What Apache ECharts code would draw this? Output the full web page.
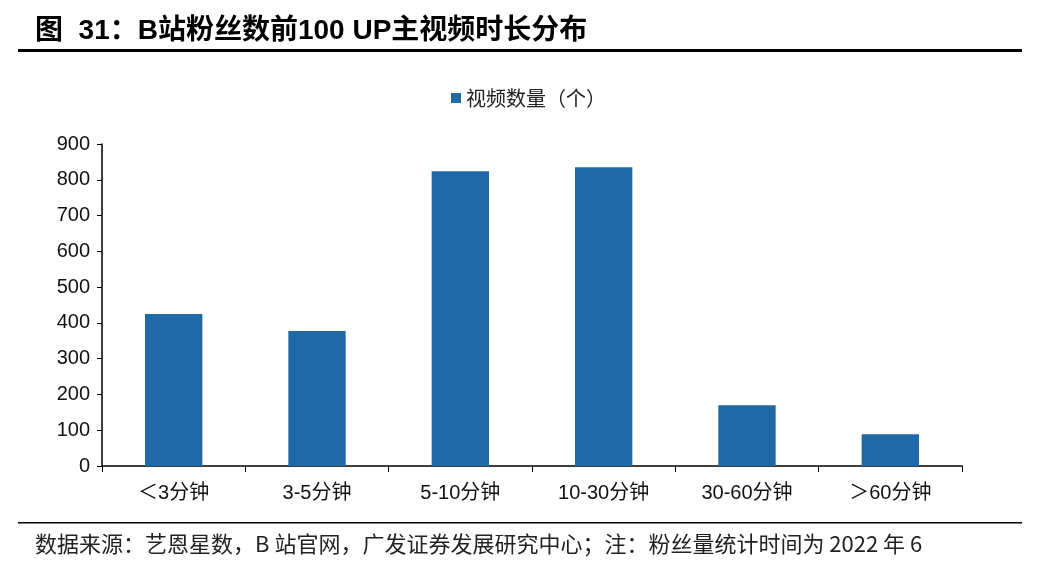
<!DOCTYPE html>
<html><head><meta charset="utf-8">
<script src="https://cdn.jsdelivr.net/npm/echarts@6/dist/echarts.min.js"></script>
<style>html,body{margin:0;padding:0;background:#fff}#c{width:1057px;height:576px}</style>
</head><body><div id="c"></div>
<script>
const categories = ['＜3分钟', '3-5分钟', '5-10分钟', '10-30分钟', '30-60分钟', '＞60分钟'];
const videoCounts = [425, 377, 824, 835, 170, 89];
const seriesName = '视频数量（个）';
const yTicks = { min: 0, max: 900, interval: 100 };
const titleText = '图  31：B站粉丝数前100 UP主视频时长分布';
const footerText = '数据来源：艺恩星数，B 站官网，广发证券发展研究中心；注：粉丝量统计时间为 2022 年 6';

const chart = echarts.init(document.getElementById('c'));
const latin = 'Liberation Sans, Arial, "Noto Sans CJK SC", sans-serif';
chart.setOption({
  animation: false,
  backgroundColor: '#fff',
  legend: {
    top: 83, left: 'center',
    itemWidth: 10, itemHeight: 10, itemGap: 7,
    icon: 'rect',
    textStyle: { fontSize: 20, color: '#222', fontFamily: '"Noto Sans CJK SC", sans-serif' },
    data: [seriesName]
  },
  grid: { left: 102, right: 95, top: 144, bottom: 110, containLabel: false },
  xAxis: {
    type: 'category', data: categories,
    axisLine: { lineStyle: { color: '#000', width: 1.5 } },
    axisTick: { show: true, length: 6, lineStyle: { color: '#000' }, alignWithLabel: false },
    axisLabel: { fontSize: 20, color: '#111', margin: 17, fontFamily: latin }
  },
  yAxis: {
    type: 'value', min: yTicks.min, max: yTicks.max, interval: yTicks.interval,
    splitLine: { show: false },
    axisLine: { show: true, lineStyle: { color: '#000', width: 1.5 } },
    axisTick: { show: true, length: 5, lineStyle: { color: '#000' } },
    axisLabel: { fontSize: 20, color: '#111', margin: 12, fontFamily: latin }
  },
  series: [{
    name: seriesName, type: 'bar', data: videoCounts,
    barWidth: '40%',
    itemStyle: { color: '#1f69a6' }
  }],
  graphic: [
    { type: 'text', left: 35, top: 17, style: { text: titleText, fill: '#000', font: 'bold 28px "Liberation Sans", Arial, "Noto Sans CJK SC", sans-serif' } },
    { type: 'rect', shape: { x: 18, y: 49, width: 1004, height: 3 }, style: { fill: '#000' } },
    { type: 'rect', shape: { x: 18, y: 522, width: 1004, height: 1.5 }, style: { fill: '#000' } },
    { type: 'text', left: 35, top: 533, style: { text: footerText, fill: '#222', font: '22px "Noto Sans CJK SC", sans-serif' } }
  ]
});
</script></body></html>
